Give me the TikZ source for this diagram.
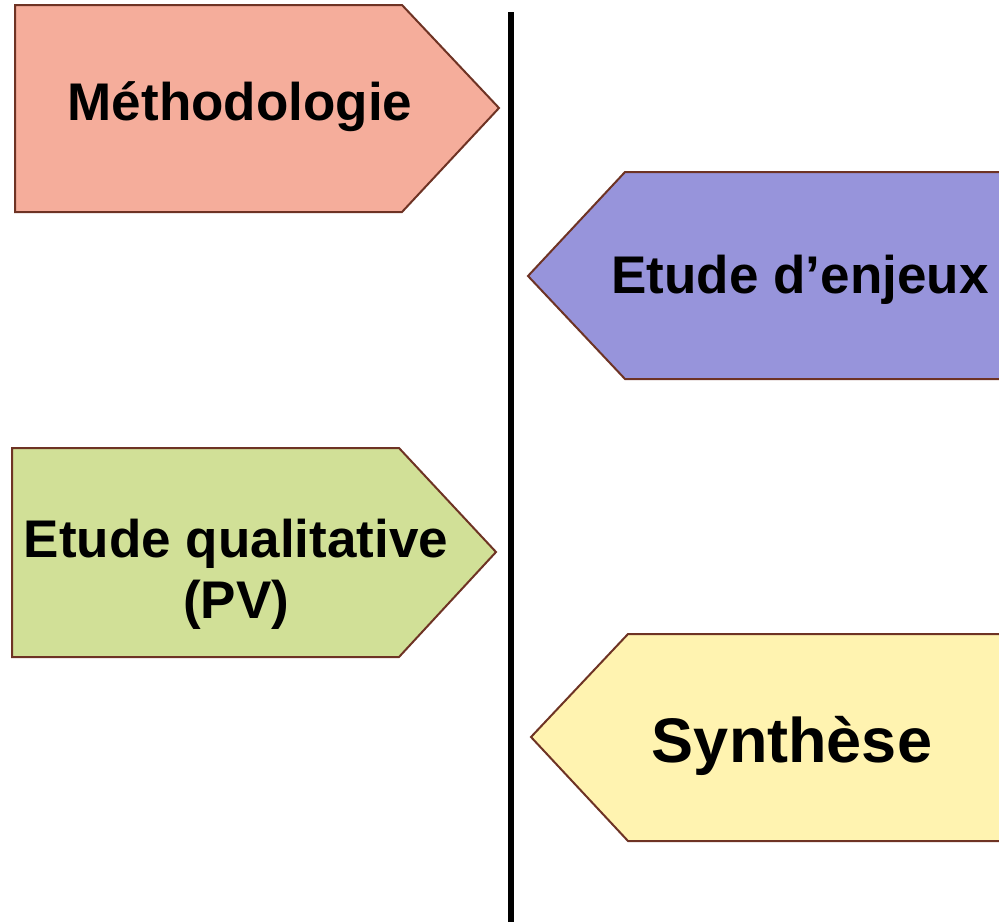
\documentclass[tikz,border=0pt]{standalone}
\usepackage{fontspec}
\setmainfont{Liberation Sans}
\definecolor{methfill}{HTML}{F5AD9B}
\definecolor{enjeuxfill}{HTML}{9794DB}
\definecolor{qualfill}{HTML}{D1E097}
\definecolor{synthfill}{HTML}{FFF3B0}
\definecolor{edgebrown}{HTML}{6E3324}
\tikzset{
  arrowpanel/.style={draw=edgebrown, line width=1pt, line join=miter},
  steplabel/.style={font=\bfseries\fontsize{26.5}{30.5}\selectfont, align=center, inner sep=0pt},
  biglabel/.style={font=\bfseries\fontsize{31.5}{36}\selectfont, inner sep=0pt}
}
\begin{document}
\begin{tikzpicture}[x=0.5pt,y=-0.5pt]
    \useasboundingbox (0,0) rectangle (999,921);
    \clip (0,0) rectangle (999,921);
    % panels pointing to the time line
    \fill[methfill,arrowpanel] (15,5) -- (402,5) -- (499,108) -- (402,212) -- (15,212) -- cycle;
    \fill[enjeuxfill,arrowpanel] (1010,172) -- (625,172) -- (528,276) -- (625,379) -- (1010,379) -- cycle;
    \fill[qualfill,arrowpanel] (12,448) -- (399,448) -- (496,552) -- (399,657) -- (12,657) -- cycle;
    \fill[synthfill,arrowpanel] (1010,634) -- (628,634) -- (531,737) -- (628,841) -- (1010,841) -- cycle;
    % labels
    \node[steplabel,anchor=base] (meth) at (240,120) {Méthodologie};
    \node[steplabel,anchor=base] (enjeux) at (800,293) {Etude d’enjeux};
    \node[steplabel,anchor=base] (qual) at (236,618) {Etude qualitative\\(PV)};
    \node[biglabel,anchor=base] (synth) at (792,762) {Synthèse};
    % time line
    \coordinate (axistop) at (511,12);
    \coordinate (axisbot) at (511,930);
    \draw[line width=3pt] (axistop) -- (axisbot);
\end{tikzpicture}
\end{document}
